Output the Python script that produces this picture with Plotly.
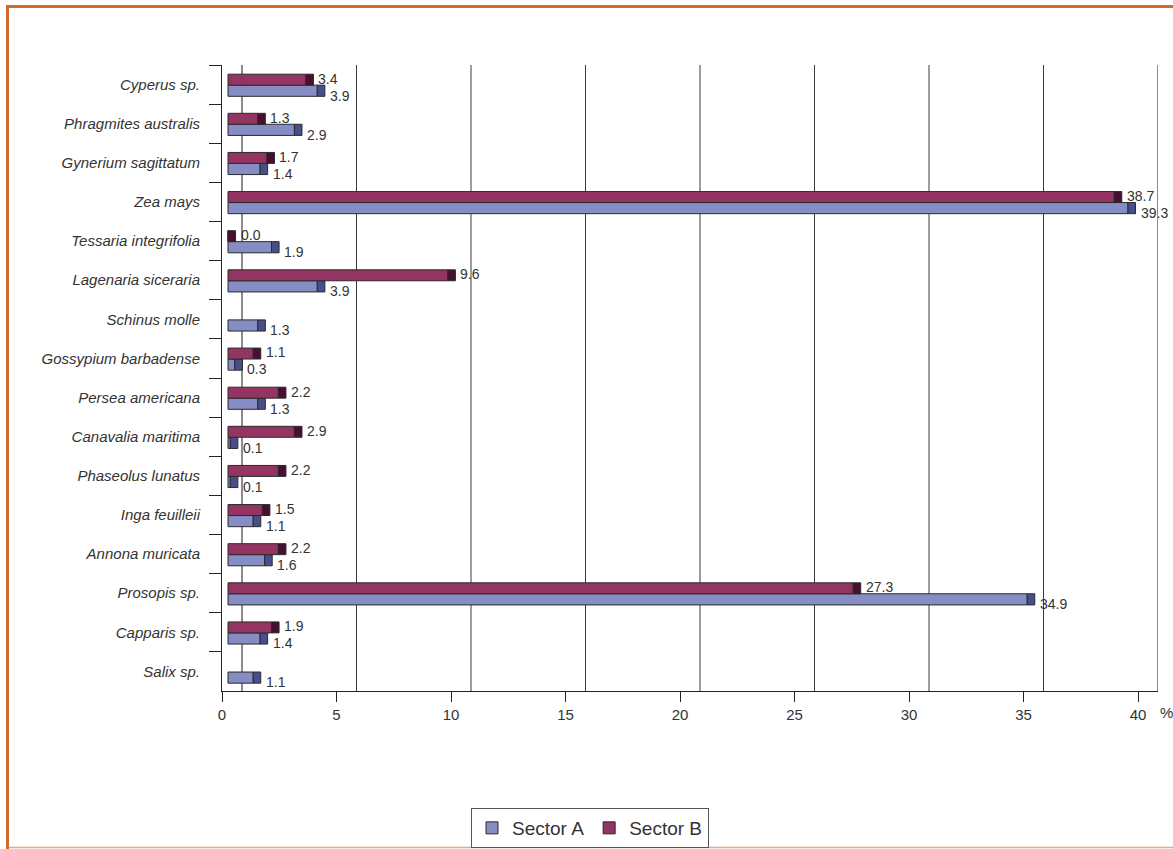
import plotly.graph_objects as go

# Plant taxa, listed top to bottom
species = [
    "Cyperus sp.", "Phragmites australis", "Gynerium sagittatum", "Zea mays",
    "Tessaria integrifolia", "Lagenaria siceraria", "Schinus molle",
    "Gossypium barbadense", "Persea americana", "Canavalia maritima",
    "Phaseolus lunatus", "Inga feuilleii", "Annona muricata", "Prosopis sp.",
    "Capparis sp.", "Salix sp.",
]

# Percentages per sector (None = taxon not recorded)
sector_a = [3.9, 2.9, 1.4, 39.3, 1.9, 3.9, 1.3, 0.3, 1.3, 0.1, 0.1, 1.1, 1.6, 34.9, 1.4, 1.1]
sector_b = [3.4, 1.3, 1.7, 38.7, 0.0, 9.6, None, 1.1, 2.2, 2.9, 2.2, 1.5, 2.2, 27.3, 1.9, None]

x_ticks = [0, 5, 10, 15, 20, 25, 30, 35, 40]

# ---- styling / geometry ----
W, H = 1173, 849
PLOT_L, PLOT_R, PLOT_T, PLOT_B = 222, 1158, 65, 691
PX_PER_UNIT = 22.9
BAR_ORIGIN = 228      # pixel where a bar of value 0 starts
GRID_ORIGIN = 242     # back-wall position of the 0 gridline
CAP = 0.33            # depth face drawn at the end of each bar (axis units)
FONT = "Liberation Sans, Arial, Helvetica, sans-serif"
TXT = "#333333"

A_BODY, A_CAP = "#868cc4", "#474f8a"
B_BODY, B_CAP = "#943463", "#4a0e2f"
EDGE = "#2a2a2a"

plot_w = PLOT_R - PLOT_L
plot_h = PLOT_B - PLOT_T

# offsets (in axis units) of the front tick row and the back wall from the bar origin
TICK_SHIFT = (PLOT_L - BAR_ORIGIN) / PX_PER_UNIT
WALL_SHIFT = (GRID_ORIGIN - BAR_ORIGIN) / PX_PER_UNIT


def px_x(p):
    return (p - PLOT_L) / plot_w


def px_y(p):
    return (PLOT_B - p) / plot_h


fig = go.Figure()

series = [
    ("Sector A", sector_a, A_BODY, A_CAP, 0.015, 0.285),
    ("Sector B", sector_b, B_BODY, B_CAP, -0.265, 0.28),
]

for name, vals, body, cap, off, wid in series:
    fig.add_trace(go.Bar(
        name=name, y=species, x=vals, base=0, orientation="h",
        offset=off, width=wid,
        marker=dict(color=body, line=dict(color=EDGE, width=1)),
        hoverinfo="skip",
    ))
    fig.add_trace(go.Bar(
        name=name + " end", y=species,
        x=[CAP if v is not None else None for v in vals],
        base=[v if v is not None else None for v in vals],
        orientation="h", offset=off, width=wid,
        marker=dict(color=cap, line=dict(color=EDGE, width=1)),
        showlegend=False, hoverinfo="skip",
    ))

# value labels next to each bar end
annotations = []
for vals, yshift in ((sector_b, 6), (sector_a, -11)):
    for sp, v in zip(species, vals):
        if v is None:
            continue
        annotations.append(dict(
            x=v + CAP, y=sp, xref="x", yref="y", text=f"{v:.1f}",
            showarrow=False, xanchor="left", yanchor="middle",
            xshift=3, yshift=yshift, font=dict(family=FONT, size=14, color=TXT),
        ))

annotations.append(dict(
    x=px_x(1166), y=px_y(712), xref="paper", yref="paper", text="%",
    showarrow=False, xanchor="center", yanchor="middle",
    font=dict(family=FONT, size=15, color=TXT),
))

# gridlines on the back wall (0 and 40 are the wall edges)
shapes = []
for t in x_ticks:
    edge = t in (x_ticks[0], x_ticks[-1])
    shapes.append(dict(
        type="line", xref="x", yref="paper",
        x0=t + WALL_SHIFT, x1=t + WALL_SHIFT, y0=0, y1=1,
        line=dict(color="#8c8c8c" if edge else "#3a3a3a", width=2 if edge else 1),
        layer="below",
    ))

# frame around the chart
shapes += [
    dict(type="line", xref="paper", yref="paper", x0=px_x(7.5), x1=px_x(7.5),
         y0=px_y(6.5), y1=px_y(849), line=dict(color="#d2692e", width=3)),
    dict(type="line", xref="paper", yref="paper", x0=px_x(6), x1=px_x(1180),
         y0=px_y(6.5), y1=px_y(6.5), line=dict(color="#d2692e", width=3)),
    dict(type="line", xref="paper", yref="paper", x0=px_x(9), x1=px_x(1180),
         y0=px_y(847.5), y1=px_y(847.5), line=dict(color="#f0a878", width=1.5)),
]

fig.update_layout(
    width=W, height=H, autosize=False,
    margin=dict(l=PLOT_L, r=W - PLOT_R, t=PLOT_T, b=H - PLOT_B, pad=0),
    paper_bgcolor="white", plot_bgcolor="white",
    font=dict(family=FONT, color=TXT),
    barmode="overlay",
    xaxis=dict(
        range=[(PLOT_L - BAR_ORIGIN) / PX_PER_UNIT, (PLOT_R - BAR_ORIGIN) / PX_PER_UNIT],
        tickvals=[t + TICK_SHIFT for t in x_ticks],
        ticktext=[str(t) for t in x_ticks],
        ticks="outside", ticklen=10, tickcolor="#222222", tickwidth=1,
        showline=True, linecolor="#222222", linewidth=1,
        showgrid=False, zeroline=False,
        tickfont=dict(family=FONT, size=15, color=TXT),
    ),
    yaxis=dict(
        categoryorder="array", categoryarray=species,
        range=[len(species) - 0.5, -0.5],
        showline=True, linecolor="#222222", linewidth=1,
        ticks="outside", tickson="boundaries", ticklen=12,
        tickcolor="#222222", tickwidth=1, ticklabelstandoff=18,
        showgrid=False, zeroline=False,
        tickfont=dict(family=FONT, size=15, color=TXT, style="italic"),
    ),
    legend=dict(
        orientation="h", xref="container", yref="container",
        x=590 / W, xanchor="center", y=1 - 808 / H, yanchor="top",
        bordercolor="#555555", borderwidth=1, bgcolor="white",
        font=dict(family=FONT, size=19, color=TXT),
        traceorder="normal",
    ),
    annotations=annotations,
    shapes=shapes,
    showlegend=True,
)

fig.write_html("out.html")
